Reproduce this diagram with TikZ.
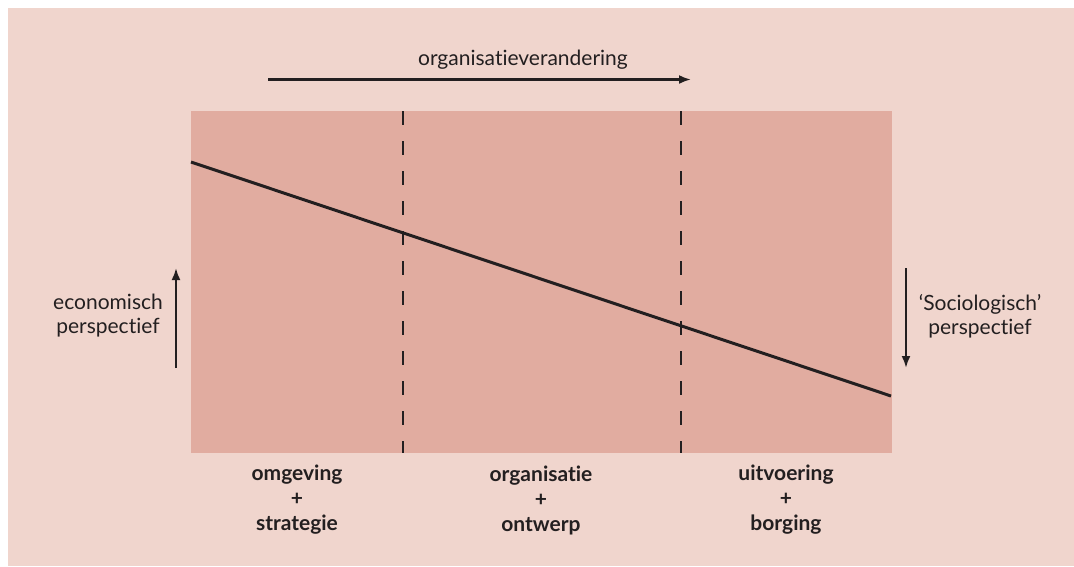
\documentclass[tikz,border=0pt]{standalone}
\usepackage{fontspec}
\setmainfont{Lato}[Ligatures=NoCommon]
\usetikzlibrary{arrows.meta}
\usetikzlibrary{positioning}
\definecolor{outerpink}{RGB}{240,213,205}
\definecolor{innerpink}{RGB}{225,172,160}
\definecolor{inkgrey}{RGB}{35,31,32}

\tikzset{
  phaselabel/.style={align=center, font=\fontsize{21}{25}\selectfont\bfseries, text=inkgrey},
  sidelabel/.style={align=center, font=\fontsize{21}{24}\selectfont, text=inkgrey},
  dashline/.style={draw=inkgrey, line width=2pt, dash pattern=on 14pt off 16pt},
  arrowline/.style={draw=inkgrey, line width=2.2pt, -{Latex[length=12pt,width=9pt]}}
}

\begin{document}
\begin{tikzpicture}[x=1pt, y=-1pt]
    \path[use as bounding box] (0, 0) rectangle (1074, 566);

    \fill[outerpink] (8, 8) rectangle (1074, 566);
    \fill[innerpink] (191, 111) rectangle (892, 453);

    % boundaries between phases
    \coordinate (d1top) at (403, 111);
    \coordinate (d1bot) at (403, 453);
    \coordinate (d2top) at (681, 111);
    \coordinate (d2bot) at (681, 453);
    \draw[dashline] (d1top) -- (d1bot);
    \draw[dashline] (d2top) -- (d2bot);

    % sloping line
    \coordinate (slopestart) at (191, 162);
    \coordinate (slopeend) at (891, 396);
    \draw[inkgrey, line width=3pt] (slopestart) -- (slopeend);

    % top arrow
    \coordinate (changestart) at (268, 79.5);
    \coordinate (changeend) at (691, 79.5);
    \draw[arrowline] (changestart) -- (changeend);
    \node[sidelabel] (change) at (523, 60) {organisatieverandering};

    % side arrows
    \coordinate (econbot) at (176, 368);
    \coordinate (econtop) at (176, 268);
    \draw[arrowline] (econbot) -- (econtop);
    \node[sidelabel] (econ) at (108, 316) {economisch\\perspectief};

    \coordinate (sociotop) at (906, 268);
    \coordinate (sociobot) at (906, 368);
    \draw[arrowline] (sociotop) -- (sociobot);
    \node[sidelabel] (socio) at (980, 316) {‘Sociologisch’\\perspectief};

    % phase labels
    \node[phaselabel] (phaseone)   at (297, 500) {omgeving\\+\\strategie};
    \node[phaselabel] (phasetwo)   at (541, 500) {organisatie\\+\\ontwerp};
    \node[phaselabel] (phasethree) at (786, 500) {uitvoering\\+\\borging};
\end{tikzpicture}
\end{document}
